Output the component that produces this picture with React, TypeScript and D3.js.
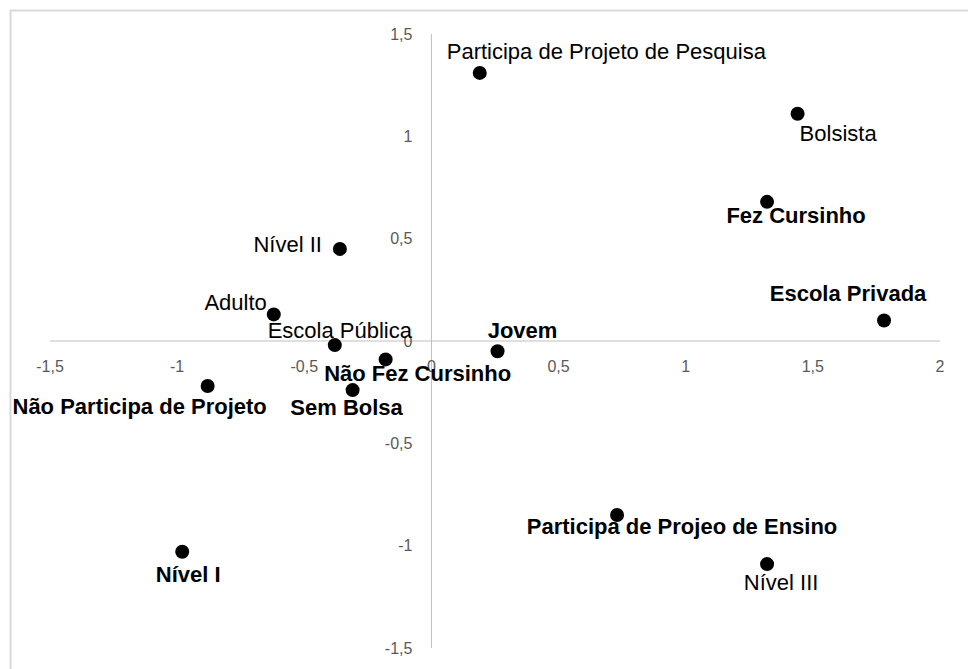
import React from 'react';
import * as d3 from 'd3';

// coordenadas das categorias (dimensão 1, dimensão 2)
const labels = [
  'Participa de Projeto de Pesquisa',
  'Bolsista',
  'Fez Cursinho',
  'Escola Privada',
  'Jovem',
  'Nível II',
  'Adulto',
  'Escola Pública',
  'Não Fez Cursinho',
  'Sem Bolsa',
  'Não Participa de Projeto',
  'Nível I',
  'Participa de Projeo de Ensino',
  'Nível III',
];
const dim1 = [0.19, 1.44, 1.32, 1.78, 0.26, -0.36, -0.62, -0.38, -0.18, -0.31, -0.88, -0.98, 0.73, 1.32];
const dim2 = [1.31, 1.11, 0.68, 0.1, -0.05, 0.45, 0.13, -0.02, -0.09, -0.24, -0.22, -1.03, -0.85, -1.09];
const bold = [false, false, true, true, true, false, false, false, true, true, true, true, true, false];

const xTicks = [-1.5, -1, -0.5, 0, 0.5, 1, 1.5, 2];
const yTicks = [-1.5, -1, -0.5, 0, 0.5, 1, 1.5];

// label placement: [anchor, dx, dy] relative to the marker
const labelPlace: [string, number, number][] = [
  ['start', -33, -21],
  ['start', 2, 20],
  ['middle', 29, 14],
  ['middle', -36, -27],
  ['middle', 25, -21],
  ['end', -18, -4],
  ['end', -7, -12],
  ['middle', 5, -15],
  ['middle', 32, 14],
  ['middle', -6, 17],
  ['middle', -68, 20],
  ['middle', 6, 23],
  ['middle', 65, 12],
  ['middle', 14, 18],
];

const W = 968;
const H = 669;

const fmt = (v: number) => String(v).replace('.', ',');

export default function App() {
  const x = d3.scaleLinear().domain([-1.5, 2]).range([50, 940]);
  const y = d3.scaleLinear().domain([-1.5, 1.5]).range([648, 34]);

  return (
    <svg
      width={W}
      height={H}
      style={{ position: 'absolute', left: 0, top: 0, background: '#fff' }}
      fontFamily="'Liberation Sans', Arial, sans-serif"
    >
      <rect x={10.5} y={10.5} width={W} height={H} fill="none" stroke="#d9d9d9" strokeWidth={2} />

      {/* axes */}
      <line x1={x(-1.5)} x2={x(2)} y1={y(0)} y2={y(0)} stroke="#bfbfbf" strokeWidth={1} />
      <line x1={x(0)} x2={x(0)} y1={y(1.5)} y2={y(-1.5)} stroke="#bfbfbf" strokeWidth={1} />

      {xTicks.map(t => (
        <text key={'x' + t} x={x(t)} y={y(0) + 25} textAnchor="middle" dominantBaseline="central" fontSize={16} fill="#595959">
          {fmt(t)}
        </text>
      ))}
      {yTicks.map(t => (
        <text key={'y' + t} x={x(0) - 19} y={y(t)} textAnchor="end" dominantBaseline="central" fontSize={16} fill="#595959">
          {fmt(t)}
        </text>
      ))}

      {labels.map((name, i) => {
        const [anchor, dx, dy] = labelPlace[i];
        return (
          <g key={name}>
            <circle cx={x(dim1[i])} cy={y(dim2[i])} r={7} fill="#000" />
            <text
              x={x(dim1[i]) + dx}
              y={y(dim2[i]) + dy}
              textAnchor={anchor}
              dominantBaseline="central"
              fontSize={22}
              fontWeight={bold[i] ? 'bold' : 'normal'}
              fill="#000"
            >
              {name}
            </text>
          </g>
        );
      })}
    </svg>
  );
}
